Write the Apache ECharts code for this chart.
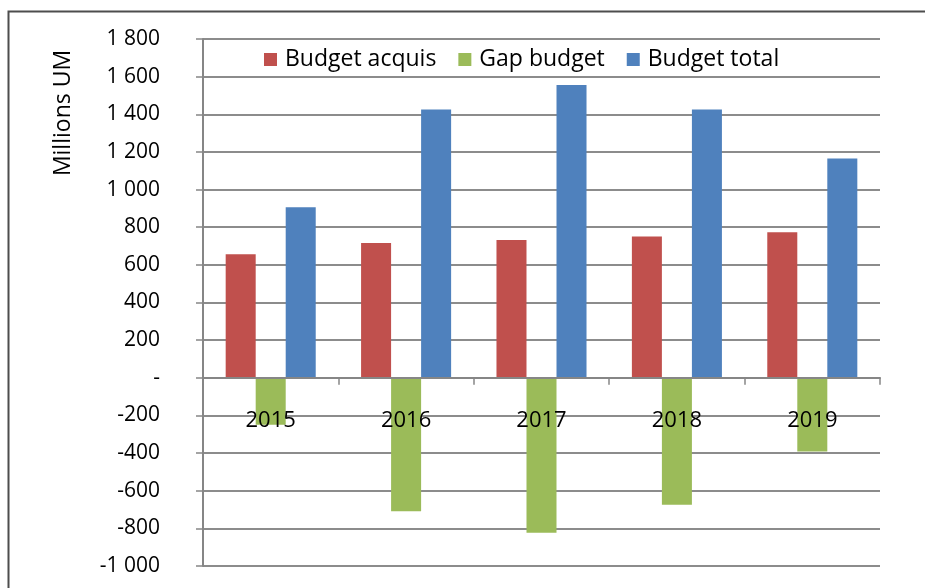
<!DOCTYPE html>
<html>
<head>
<meta charset="utf-8">
<script src="https://cdn.jsdelivr.net/npm/echarts@6/dist/echarts.min.js"></script>
<style>
html,body{margin:0;padding:0;background:#fff;}
#chart{width:925px;height:588px;}
</style>
</head>
<body>
<div id="chart"></div>
<script>
var years = ['2015', '2016', '2017', '2018', '2019'];
var budgetAcquis = [657, 716, 732, 751, 773];
var gapBudget = [-249, -709, -823, -674, -392];
var budgetTotal = [906, 1425, 1555, 1425, 1165];
var seriesNames = ['Budget acquis', 'Gap budget', 'Budget total'];
var yAxisTitle = 'Millions UM';
var yMin = -1000, yMax = 1800, yStep = 200;

var FONT = '"Open Sans", "Liberation Sans", sans-serif';
var chart = echarts.init(document.getElementById('chart'), null, {renderer: 'canvas'});

var GRID_TOP = 39, GRID_BOTTOM = 22, H = 588;
var plotH = H - GRID_TOP - GRID_BOTTOM;
var zeroOffset = plotH * (0 - yMin) / (yMax - yMin);

function fmt(v) {
  if (v === 0) return '-';
  var s = Math.abs(v).toString();
  var out = s.replace(/\B(?=(\d{3})+(?!\d))/g, ' ');
  return (v < 0 ? '-' : '') + out;
}

var option = {
  backgroundColor: '#ffffff',
  animation: false,
  grid: {left: 203, right: 45, top: GRID_TOP, bottom: GRID_BOTTOM, containLabel: false, outerBoundsMode: 'none'},
  graphic: [
    {type: 'rect', left: 6, top: 9, shape: {width: 940, height: 600},
     style: {fill: 'none', stroke: '#4d4d4d', lineWidth: 2}, z: 0},
    {type: 'text', x: 63, y: 113, rotation: Math.PI / 2,
     style: {text: yAxisTitle, font: '23px ' + FONT, fill: '#000', textAlign: 'center', textVerticalAlign: 'middle'}}
  ],
  legend: {
    data: seriesNames,
    left: 259,
    top: 43,
    itemWidth: 13,
    itemHeight: 13,
    itemGap: 22,
    icon: 'rect',
    textStyle: {fontFamily: FONT, fontSize: 23, color: '#000', padding: [0, 0, 0, 3]}
  },
  xAxis: {
    type: 'category',
    data: years,
    z: 10,
    position: 'bottom',
    offset: -zeroOffset,
    axisLine: {onZero: false, lineStyle: {color: '#868686', width: 2}},
    axisTick: {show: true, length: 7, lineStyle: {color: '#868686', width: 1.5}},
    axisLabel: {margin: 32, fontFamily: FONT, fontSize: 22, color: '#000'},
    splitLine: {show: false}
  },
  yAxis: {
    type: 'value',
    min: yMin,
    max: yMax,
    interval: yStep,
    axisLine: {show: true, lineStyle: {color: '#868686', width: 2}},
    axisTick: {show: true, length: 7, lineStyle: {color: '#868686', width: 1.5}},
    axisLabel: {margin: 43, fontFamily: FONT, fontSize: 21, color: '#000', formatter: fmt},
    splitLine: {show: true, lineStyle: {color: '#8c8c8c', width: 2}}
  },
  series: [
    {name: seriesNames[0], type: 'bar', data: budgetAcquis, barGap: '0%', barCategoryGap: '33.5%',
     itemStyle: {color: '#C0504D'}},
    {name: seriesNames[1], type: 'bar', data: gapBudget, barGap: '0%', barCategoryGap: '33.5%',
     itemStyle: {color: '#9BBB59'}},
    {name: seriesNames[2], type: 'bar', data: budgetTotal, barGap: '0%', barCategoryGap: '33.5%',
     itemStyle: {color: '#4F81BD'}}
  ]
};
chart.setOption(option);
</script>
</body>
</html>
